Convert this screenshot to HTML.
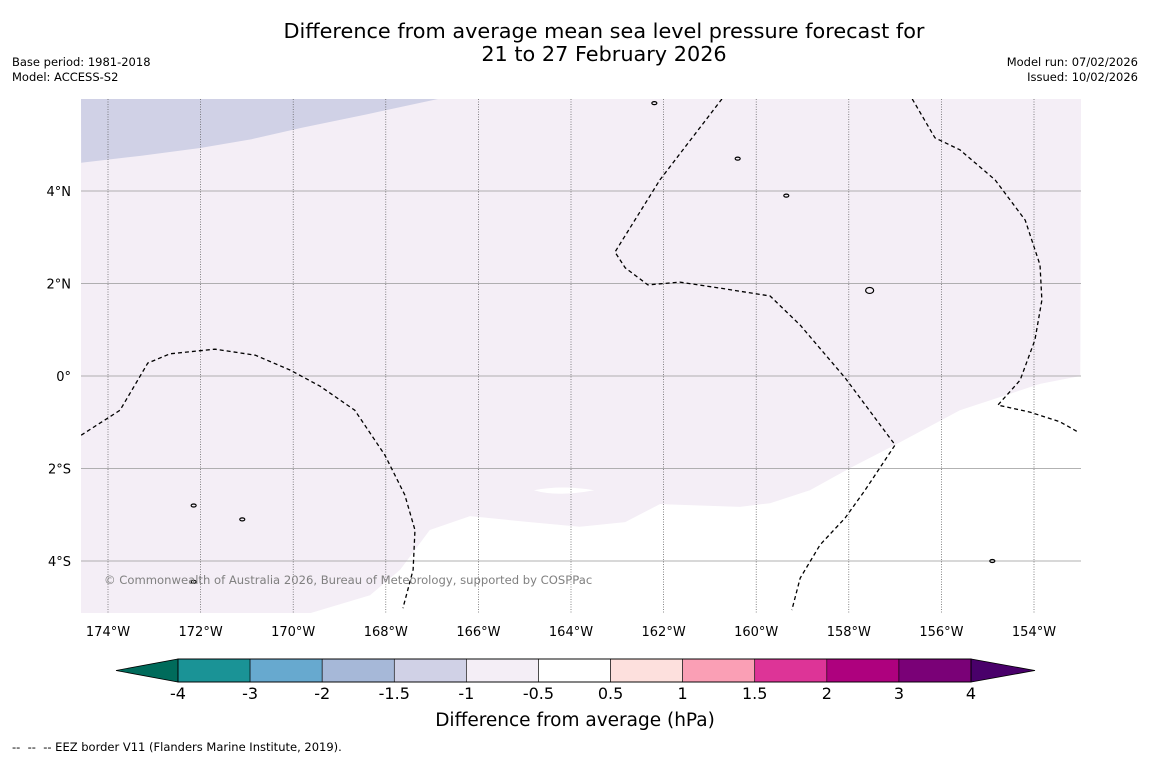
<!DOCTYPE html>
<html><head><meta charset="utf-8"><style>
body{margin:0;background:#fff;}
svg text{font-family:"DejaVu Sans","Liberation Sans",sans-serif;white-space:pre;}
</style></head><body>
<svg id="c" width="1150" height="758" xmlns="http://www.w3.org/2000/svg">
<text x="604" y="38" font-size="20.8" text-anchor="middle">Difference from average mean sea level pressure forecast for</text>
<text x="604" y="61" font-size="20.8" text-anchor="middle">21 to 27 February 2026</text>
<text x="12" y="66" font-size="11.5">Base period: 1981-2018</text>
<text x="12" y="81" font-size="11.5">Model: ACCESS-S2</text>
<text x="1138" y="66" font-size="11.5" text-anchor="end">Model run: 07/02/2026</text>
<text x="1138" y="81" font-size="11.5" text-anchor="end">Issued: 10/02/2026</text>
<g id="map"></g>
<g id="cbar"></g>
<text x="575" y="726" font-size="18.5" text-anchor="middle">Difference from average (hPa)</text>
<text x="12" y="751" font-size="11.5">--  --  -- EEZ border V11 (Flanders Marine Institute, 2019).</text>
</svg>
<script>
const lonTicks=[-174,-172,-170,-168,-166,-164,-162,-160,-158,-156,-154];
const latTicks=[4,2,0,-2,-4];
const levels=[-4,-3,-2,-1.5,-1,-0.5,0.5,1,1.5,2,3,4];
const levelLabels=["-4","-3","-2","-1.5","-1","-0.5","0.5","1","1.5","2","3","4"];
const levelColors=["#1a9396","#67a9cf","#a6b8d8","#d0d1e6","#f4eef6","#ffffff","#fde0dd","#fa9fb5","#dd3497","#ae017e","#7a0177"];
const lowColor="#006b5b", highColor="#49006a";
const lavBoundLon=[-174.58,-173.3,-172.01,-170.9,-169.85,-168.4,-166.87];
const lavBoundLat=[4.61,4.76,4.93,5.12,5.36,5.66,5.99];
const paleBoundLon=[-153.0,-153.87,-155.6,-157.0,-157.97,-158.84,-159.7,-160.35,-162.08,-162.83,-163.81,-164.89,-166.18,-167.05,-167.69,-168.34,-169.64];
const paleBoundLat=[0,-0.17,-0.74,-1.49,-1.99,-2.47,-2.75,-2.83,-2.77,-3.16,-3.26,-3.16,-3.03,-3.33,-4.19,-4.74,-5.13];
const eezA_lon=[-174.58,-173.74,-173.14,-172.66,-171.69,-170.82,-170.07,-169.42,-168.67,-168.02,-167.59,-167.37,-167.41,-167.63];
const eezA_lat=[-1.28,-0.74,0.28,0.48,0.58,0.45,0.13,-0.22,-0.74,-1.71,-2.57,-3.33,-4.19,-5.02];
const eezB_lon=[-160.74,-162.08,-163.05,-162.83,-162.34,-161.65,-160.78,-159.70,-159.05,-158.08,-157.0,-157.65,-158.08,-158.62,-159.05,-159.23];
const eezB_lat=[5.99,4.24,2.68,2.34,1.97,2.03,1.90,1.73,1.10,-0.04,-1.49,-2.47,-3.07,-3.65,-4.37,-5.06];
const eezC_lon=[-156.63,-156.14,-155.6,-154.84,-154.19,-153.87,-153.83,-153.98,-154.30,-154.78,-154.09,-153.44,-153.05];
const eezC_lat=[5.99,5.15,4.89,4.24,3.37,2.40,1.64,0.78,-0.09,-0.63,-0.78,-0.99,-1.21];
const islandLon=[-157.55,-159.35,-172.15,-172.15,-160.4,-162.2,-154.9,-171.1];
const islandLat=[1.85,3.9,-2.8,-4.45,4.7,5.9,-4.0,-3.1];

const NS="http://www.w3.org/2000/svg";
const X0=81,X1=1081,Y0=99,Y1=613;
const xs=lon=>108+(lon+174)*46.3;
const ys=lat=>376-lat*46.25;
function mk(t,a,p){const e=document.createElementNS(NS,t);for(const k in a)e.setAttribute(k,a[k]);p.appendChild(e);return e;}
const map=document.getElementById('map');
const cp=mk('clipPath',{id:'clip'},map);mk('rect',{x:X0,y:Y0,width:X1-X0,height:Y1-Y0},cp);
const g=mk('g',{'clip-path':'url(#clip)'},map);
let r=mk('rect',{x:X0,y:Y0,width:X1-X0,height:Y1-Y0,fill:'#ffffff'},g);

let pale=mk('polygon',{points:[[X0,Y0],[X0,Y1]].concat(paleBoundLon.map((v,i)=>[xs(v),ys(paleBoundLat[i])]).reverse()).concat([[X1,Y0]]).map(p=>p.join(',')).join(' '),fill:levelColors[4]},g);

let lav=mk('polygon',{points:[[X0,Y0]].concat(lavBoundLon.map((v,i)=>[xs(v),ys(lavBoundLat[i])])).map(p=>p.join(',')).join(' '),fill:levelColors[3]},g);

let sl=mk('path',{d:`M${xs(-164.8)},${ys(-2.47)} Q${xs(-164.3)},${ys(-2.62)} ${xs(-163.5)},${ys(-2.47)} Q${xs(-164.2)},${ys(-2.35)} ${xs(-164.8)},${ys(-2.47)}Z`,fill:'#fff'},g);

lonTicks.forEach(l=>{let e=mk('line',{x1:xs(l),x2:xs(l),y1:Y0,y2:Y1,stroke:'#555','stroke-width':0.7,'stroke-dasharray':'1,1.5'},g);
});
latTicks.forEach(l=>{let e=mk('line',{x1:X0,x2:X1,y1:ys(l),y2:ys(l),stroke:'#999','stroke-width':0.7},g);
});
[[eezA_lon,eezA_lat],[eezB_lon,eezB_lat],[eezC_lon,eezC_lat]].forEach((s,k)=>{
let e=mk('polyline',{points:s[0].map((v,i)=>xs(v)+','+ys(s[1][i])).join(' '),fill:'none',stroke:'#000','stroke-width':1.3,'stroke-dasharray':'4,3'},g);
});
islandLon.forEach((v,i)=>{let e=mk('ellipse',{cx:xs(v),cy:ys(islandLat[i]),rx:i==0?4:2.5,ry:i==0?3:1.5,fill:'none',stroke:'#000','stroke-width':1.2},g);
});
let cr=mk('text',{x:104,y:584,'font-size':11.6,fill:'#808080'},g);cr.textContent='© Commonwealth of Australia 2026, Bureau of Meteorology, supported by COSPPac';

lonTicks.forEach(l=>{let e=mk('text',{x:xs(l),y:636,'font-size':13,'text-anchor':'middle'},map);e.textContent=Math.abs(l)+'°W';
});
latTicks.forEach(l=>{let e=mk('text',{x:71,y:ys(l)+5,'font-size':13,'text-anchor':'end'},map);e.textContent=l==0?'0°':Math.abs(l)+'°'+(l>0?'N':'S');
});
const cb=document.getElementById('cbar');
const cx0=178,cw=(971-178)/(levels.length-1),cy=659,ch=23;
let lt=mk('polygon',{points:`116,${cy+ch/2} ${cx0},${cy} ${cx0},${cy+ch}`,fill:lowColor,stroke:'#000','stroke-width':0.8},cb);

let ht=mk('polygon',{points:`1035,${cy+ch/2} 971,${cy} 971,${cy+ch}`,fill:highColor,stroke:'#000','stroke-width':0.8},cb);

levelColors.forEach((c,i)=>{let e=mk('rect',{x:cx0+i*cw,y:cy,width:cw,height:ch,fill:c,stroke:'#000','stroke-width':0.6},cb);
});
mk('rect',{x:cx0,y:cy,width:cw*levelColors.length,height:ch,fill:'none',stroke:'#000','stroke-width':0.9},cb);
levelLabels.forEach((t,i)=>{let e=mk('text',{x:cx0+i*cw,y:699,'font-size':16,'text-anchor':'middle'},cb);e.textContent=t;
});
</script>
</body></html>
